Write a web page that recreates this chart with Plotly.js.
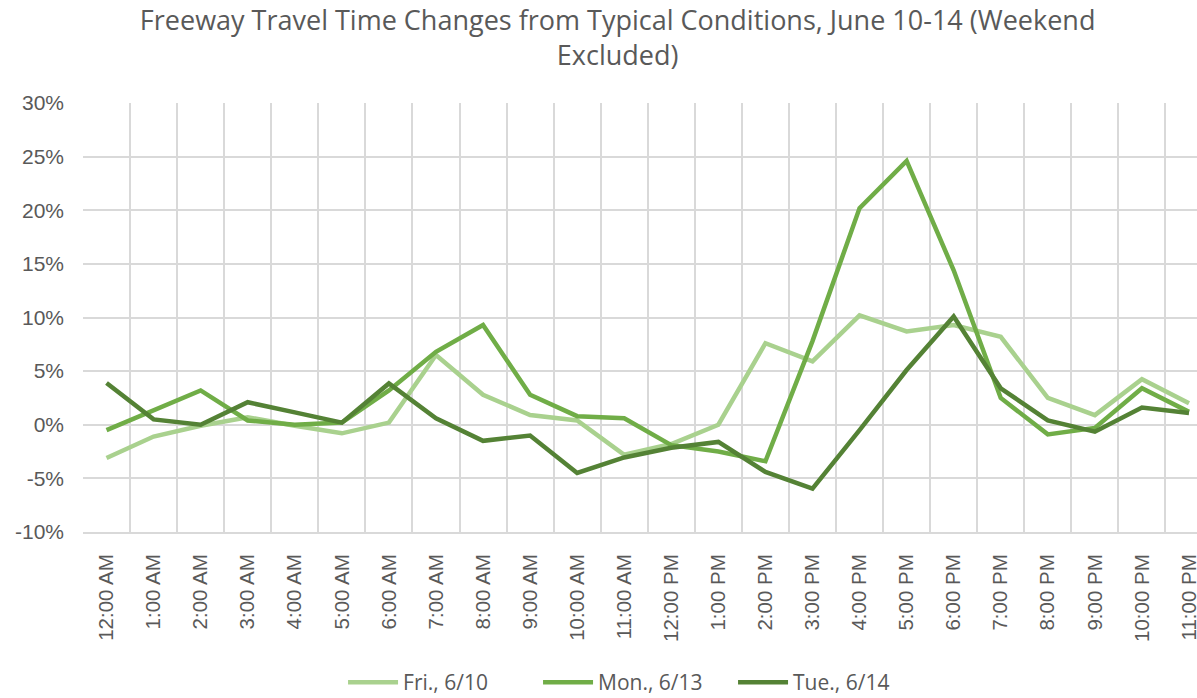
<!DOCTYPE html>
<html>
<head>
<meta charset="utf-8">
<script src="https://cdn.plot.ly/plotly-3.0.1.min.js"></script>
<style>html,body{margin:0;padding:0;background:#fff;overflow:hidden}#chart{width:1197px;height:698px}</style>
</head>
<body>
<div id="chart"></div>
<script>
const hours = ["12:00 AM","1:00 AM","2:00 AM","3:00 AM","4:00 AM","5:00 AM","6:00 AM","7:00 AM","8:00 AM","9:00 AM","10:00 AM","11:00 AM",
               "12:00 PM","1:00 PM","2:00 PM","3:00 PM","4:00 PM","5:00 PM","6:00 PM","7:00 PM","8:00 PM","9:00 PM","10:00 PM","11:00 PM"];
const seriesNames = ["Fri., 6/10","Mon., 6/13","Tue., 6/14"];
const fri = [-3.1,-1.1,-0.1,0.7,-0.1,-0.8,0.2,6.5,2.8,0.9,0.4,-2.8,-1.8,0.0,7.6,5.9,10.2,8.7,9.3,8.2,2.5,0.9,4.25,2.0];
const mon = [-0.5,1.3,3.2,0.4,0.0,0.2,3.2,6.8,9.3,2.8,0.8,0.6,-1.9,-2.5,-3.4,7.8,20.2,24.6,14.4,2.5,-0.9,-0.3,3.4,1.2];
const tue = [3.9,0.5,0.0,2.1,1.15,0.2,3.85,0.6,-1.5,-1.0,-4.5,-3.05,-2.15,-1.6,-4.4,-5.95,-0.5,5.1,10.1,3.4,0.4,-0.65,1.6,1.1];
const yTickVals = [-10,-5,0,5,10,15,20,25,30];
const yTickText = ["-10%","-5%","0%","5%","10%","15%","20%","25%","30%"];
const colors = ["#A9D18E","#70AD47","#548235"];

const traces = [fri, mon, tue].map((vals, i) => ({
  type: "scatter", mode: "lines", x: hours, y: vals, name: seriesNames[i],
  line: {color: colors[i], width: 4.5, shape: "linear"}, hoverinfo: "skip"
}));

const titleFont = "Open Sans, Roboto, sans-serif";
const layout = {
  width: 1197, height: 698,
  margin: {l: 83, r: 0, t: 103, b: 166, autoexpand: false},
  paper_bgcolor: "#fff", plot_bgcolor: "#fff",
  font: {family: "Liberation Sans, Arial, sans-serif", color: "#595959"},
  title: {text: "Freeway Travel Time Changes from Typical Conditions, June 10-14 (Weekend<br>Excluded)",
          font: {family: titleFont, size: 27, color: "#595959"},
          x: 0.516, xanchor: "center", y: 0.957, yanchor: "top"},
  xaxis: {type: "category", categoryorder: "array", categoryarray: hours,
          range: [-0.5, 23.17], tickson: "boundaries", ticks: "",
          showgrid: true, gridcolor: "#d9d9d9", gridwidth: 2,
          showline: true, linecolor: "#d9d9d9", linewidth: 2,
          tickangle: -90, tickfont: {size: 20.5, color: "#595959"}, ticklabelstandoff: 12,
          automargin: false, fixedrange: true},
  yaxis: {range: [-10, 30], tickmode: "array", tickvals: yTickVals, ticktext: yTickText,
          showgrid: true, gridcolor: "#d9d9d9", gridwidth: 2, zeroline: false,
          showline: false, ticks: "", tickfont: {size: 21, color: "#595959"}, ticklabelstandoff: 18,
          automargin: false, fixedrange: true},
  showlegend: true,
  legend: {orientation: "h", x: 0.496, xanchor: "center", yref: "container", y: 0.022, yanchor: "middle",
           bgcolor: "rgba(0,0,0,0)",
           font: {family: titleFont, size: 21, color: "#595959"},
           itemwidth: 50, entrywidth: 130, entrywidthmode: "pixels", traceorder: "normal"}
};
Plotly.newPlot("chart", traces, layout, {displayModeBar: false, staticPlot: true});
</script>
</body>
</html>
